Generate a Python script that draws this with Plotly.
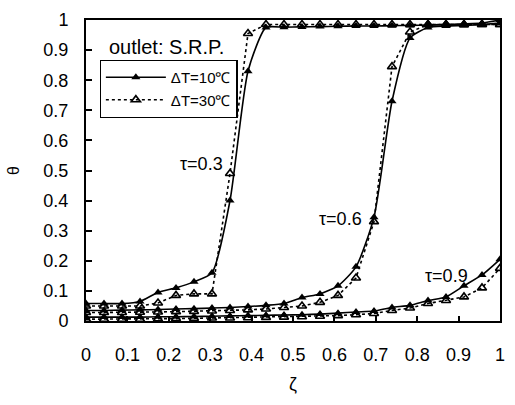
import plotly.graph_objects as go

zeta = [i / 23 for i in range(24)]

# tau = 0.3
t03_dT10 = [0.058, 0.058, 0.058, 0.065, 0.095, 0.11, 0.13, 0.16, 0.40, 0.83, 0.975,
            0.976, 0.977, 0.978, 0.979, 0.98, 0.98, 0.981, 0.982, 0.983, 0.985, 0.987, 0.99, 1.0]
t03_dT30 = [0.05, 0.05, 0.05, 0.05, 0.06, 0.085, 0.09, 0.09, 0.49, 0.955, 0.985,
            0.985, 0.985, 0.985, 0.985, 0.985, 0.985, 0.985, 0.985, 0.985, 0.985, 0.985, 0.985, 0.985]
# tau = 0.6
t06_dT10 = [0.035, 0.035, 0.036, 0.037, 0.038, 0.04, 0.041, 0.043, 0.045, 0.048, 0.052,
            0.058, 0.078, 0.09, 0.117, 0.18, 0.345, 0.73, 0.94, 0.975, 0.98, 0.982, 0.985, 0.99]
t06_dT30 = [0.028, 0.028, 0.028, 0.029, 0.03, 0.031, 0.032, 0.033, 0.035, 0.037, 0.04,
            0.045, 0.05, 0.062, 0.085, 0.143, 0.33, 0.845, 0.96, 0.985, 0.985, 0.985, 0.985, 0.985]
# tau = 0.9
t09_dT10 = [0.013, 0.013, 0.013, 0.013, 0.014, 0.014, 0.015, 0.016, 0.017, 0.018, 0.019,
            0.02, 0.021, 0.023, 0.026, 0.03, 0.033, 0.045, 0.052, 0.068, 0.08, 0.117, 0.153, 0.205]
t09_dT30 = [0.006, 0.006, 0.006, 0.006, 0.007, 0.008, 0.009, 0.01, 0.01, 0.011, 0.012,
            0.013, 0.014, 0.016, 0.018, 0.021, 0.025, 0.035, 0.043, 0.058, 0.068, 0.08, 0.11, 0.175]

series_dT10 = [t03_dT10, t06_dT10, t09_dT10]
series_dT30 = [t03_dT30, t06_dT30, t09_dT30]
tau_labels = ["τ=0.3", "τ=0.6", "τ=0.9"]
tau_label_pos = [(0.279, 0.52), (0.614, 0.34), (0.871, 0.15)]

xticks = [0, 0.1, 0.2, 0.3, 0.4, 0.5, 0.6, 0.7, 0.8, 0.9, 1]
yticks = [0, 0.1, 0.2, 0.3, 0.4, 0.5, 0.6, 0.7, 0.8, 0.9, 1]
tick_text = ["0", "0.1", "0.2", "0.3", "0.4", "0.5", "0.6", "0.7", "0.8", "0.9", "1"]

FONT = "Liberation Sans, Arial, sans-serif"

fig = go.Figure()
for k, ys in enumerate(series_dT10):
    fig.add_trace(go.Scatter(
        x=zeta, y=ys, mode="lines+markers", name="ΔT=10℃",
        showlegend=(k == 0), legendgroup="a",
        line=dict(color="black", width=1.6, shape="spline", smoothing=0.6),
        marker=dict(symbol="triangle-up", size=8, color="black"),
    ))
for k, ys in enumerate(series_dT30):
    fig.add_trace(go.Scatter(
        x=zeta, y=ys, mode="lines+markers", name="ΔT=30℃",
        showlegend=(k == 0), legendgroup="b",
        line=dict(color="black", width=1.6, dash="dot"),
        marker=dict(symbol="triangle-up-open", size=8, color="black", line=dict(width=1.6)),
    ))

for lab, (lx, ly) in zip(tau_labels, tau_label_pos):
    fig.add_annotation(x=lx, y=ly, text=lab, showarrow=False,
                       xanchor="center", yanchor="middle",
                       font=dict(size=18, color="black", family=FONT))

fig.add_annotation(xref="paper", yref="paper", x=0.05, y=0.909, text="outlet: S.R.P.",
                   showarrow=False, xanchor="left", yanchor="middle",
                   font=dict(size=20, color="black", family=FONT))

fig.update_layout(
    width=515, height=405,
    margin=dict(l=86, r=10, t=13, b=84),
    paper_bgcolor="white", plot_bgcolor="white",
    font=dict(family=FONT, color="black", size=18),
    legend=dict(x=0.033, y=0.868, xanchor="left", yanchor="top",
                bordercolor="black", borderwidth=1.2, bgcolor="white",
                font=dict(size=15, family=FONT), itemwidth=60,
                tracegroupgap=0),
    xaxis=dict(range=[0, 1], tickvals=xticks, ticktext=tick_text,
               ticks="inside", ticklen=5, tickcolor="black", tickwidth=1.5,
               showline=True, linecolor="black", linewidth=2, mirror=True,
               showgrid=False, zeroline=False, ticklabelstandoff=16,
               title=dict(text="ζ", font=dict(size=18), standoff=14)),
    yaxis=dict(range=[0, 1], tickvals=yticks, ticktext=tick_text,
               ticks="inside", ticklen=6, tickcolor="black", tickwidth=1.5,
               showline=True, linecolor="black", linewidth=2, mirror=True,
               showgrid=False, zeroline=False, ticklabelstandoff=12,
               title=dict(text="θ", font=dict(size=16), standoff=20)),
)

fig.write_html("out.html")
